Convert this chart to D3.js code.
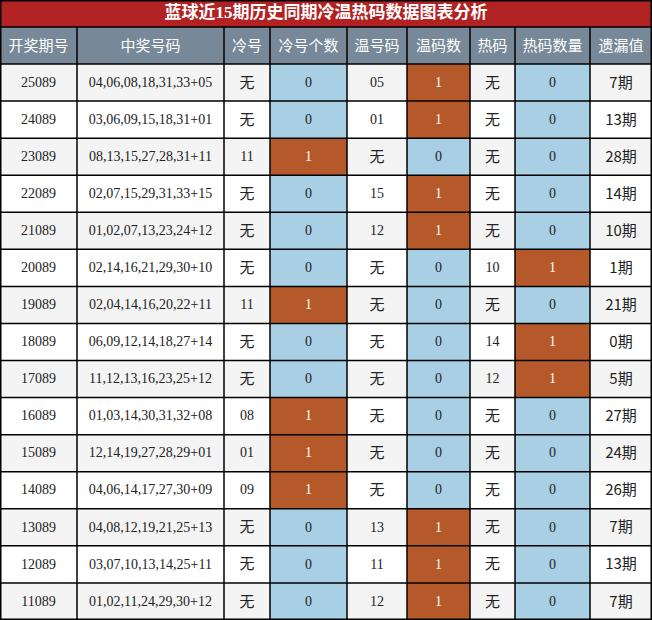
<!DOCTYPE html>
<html><head><meta charset="utf-8">
<script src="https://cdn.jsdelivr.net/npm/d3@7"></script>
<style>body{margin:0;background:#fff}</style></head>
<body><div class="container"></div>
<script>
const TITLE = "蓝球近15期历史同期冷温热码数据图表分析";
const headers = ["开奖期号","中奖号码","冷号","冷号个数","温号码","温码数","热码","热码数量","遗漏值"];
const periods = ["25089","24089","23089","22089","21089","20089","19089","18089","17089","16089","15089","14089","13089","12089","11089"];
const numbers = ["04,06,08,18,31,33+05","03,06,09,15,18,31+01","08,13,15,27,28,31+11","02,07,15,29,31,33+15","01,02,07,13,23,24+12","02,14,16,21,29,30+10","02,04,14,16,20,22+11","06,09,12,14,18,27+14","11,12,13,16,23,25+12","01,03,14,30,31,32+08","12,14,19,27,28,29+01","04,06,14,17,27,30+09","04,08,12,19,21,25+13","03,07,10,13,14,25+11","01,02,11,24,29,30+12"];
const coldNums = ["无","无","11","无","无","无","11","无","无","08","01","09","无","无","无"];
const coldCount = [0,0,1,0,0,0,1,0,0,1,1,1,0,0,0];
const warmNums = ["05","01","无","15","12","无","无","无","无","无","无","无","13","11","12"];
const warmCount = [1,1,0,1,1,0,0,0,0,0,0,0,1,1,1];
const hotNums = ["无","无","无","无","无","10","无","14","12","无","无","无","无","无","无"];
const hotCount = [0,0,0,0,0,1,0,1,1,0,0,0,0,0,0];
const missing = ["7期","13期","28期","14期","10期","1期","21期","0期","5期","27期","24期","26期","7期","13期","7期"];

const W = 652, H = 620, titleH = 27, headH = 37;
const colW = [77,147,46,77,60,63,45,75,62];
const edges = [0]; colW.forEach(w => edges.push(edges[edges.length-1] + w));
const x = d3.scaleLinear().domain([0, edges[edges.length-1]]).range([0, W]);
const y = d3.scaleBand().domain(d3.range(periods.length)).range([titleH + headH, H]);

const svg = d3.select(".container").append("svg").attr("width", W).attr("height", H)
  .style("font-family", "'Liberation Serif','Noto Sans CJK SC',serif");

svg.append("rect").attr("width", W).attr("height", titleH).attr("fill", "#b22222");
svg.append("text").attr("x", W/2).attr("y", titleH/2 + 1).attr("text-anchor","middle")
  .attr("dominant-baseline","middle").attr("fill","#fff").attr("font-size",17).attr("font-weight","bold")
  .style("font-family","'Liberation Serif','Noto Sans CJK SC',serif").text(TITLE);

headers.forEach((h, i) => {
  svg.append("rect").attr("x", x(edges[i])).attr("y", titleH).attr("width", x(edges[i+1]) - x(edges[i]))
    .attr("height", headH).attr("fill", "#778899");
  svg.append("text").attr("x", (x(edges[i]) + x(edges[i+1]))/2).attr("y", titleH + headH/2 + 1)
    .attr("text-anchor","middle").attr("dominant-baseline","middle").attr("fill","#fff")
    .attr("font-size",15).style("font-family","'Noto Sans CJK SC',sans-serif").text(h);
});

const countCols = {3: coldCount, 5: warmCount, 7: hotCount};
periods.forEach((p, r) => {
  const vals = [p, numbers[r], coldNums[r], coldCount[r], warmNums[r], warmCount[r], hotNums[r], hotCount[r], missing[r]];
  const base = r % 2 === 0 ? "#f4f4f4" : "#ffffff";
  vals.forEach((v, c) => {
    let fill = base, tc = "#222";
    if (countCols[c]) { fill = v === 1 ? "#b5592a" : "#a8cfe3"; if (v === 1) tc = "#fff"; }
    svg.append("rect").attr("x", x(edges[c])).attr("y", y(r)).attr("width", x(edges[c+1]) - x(edges[c]))
      .attr("height", y.bandwidth()).attr("fill", fill);
    const isCjk = /[无期]/.test(String(v));
    svg.append("text").attr("x", (x(edges[c]) + x(edges[c+1]))/2).attr("y", y(r) + y.bandwidth()/2 + 1)
      .attr("text-anchor","middle").attr("dominant-baseline","middle").attr("fill", tc)
      .attr("font-size", isCjk ? 15 : 14)
      .style("font-family", isCjk ? "'Noto Sans CJK SC',sans-serif" : "'Liberation Serif',serif").text(v);
  });
});

// grid lines
const g = svg.append("g").attr("stroke", "#000").attr("stroke-width", 1.5);
edges.forEach(e => g.append("line").attr("x1", x(e)).attr("x2", x(e)).attr("y1", titleH).attr("y2", H));
[titleH].concat(d3.range(periods.length).map(r => y(r)), [H]).forEach(yy =>
  g.append("line").attr("x1", 0).attr("x2", W).attr("y1", yy).attr("y2", yy));
g.append("rect").attr("x",0.75).attr("y",0.75).attr("width",W-1.5).attr("height",H-1.5).attr("fill","none");
</script></body></html>
